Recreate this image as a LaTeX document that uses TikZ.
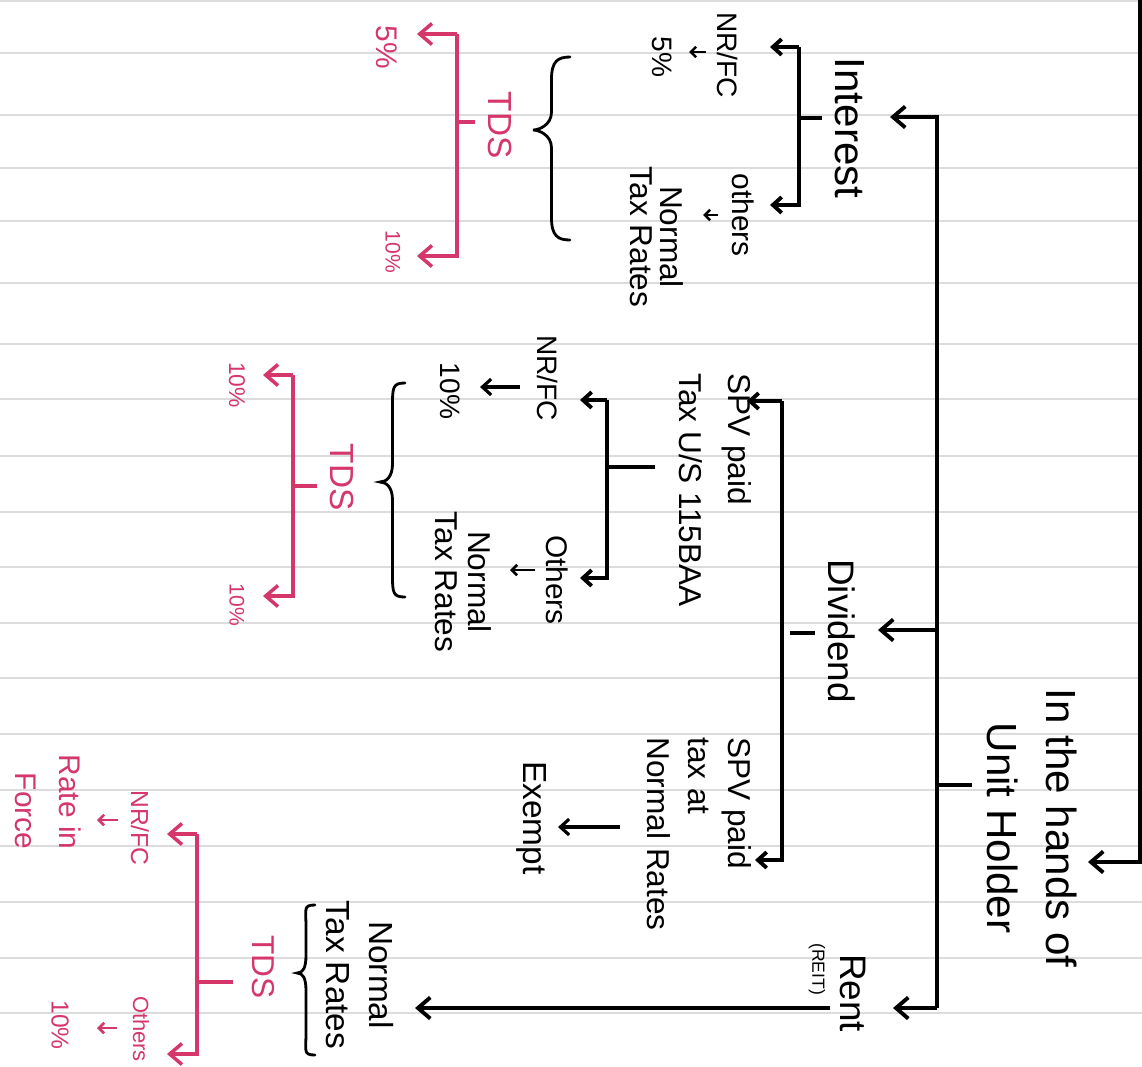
\documentclass[tikz,border=0pt]{standalone}
\usepackage{fontspec}
\setmainfont{Liberation Sans}
\usetikzlibrary{arrows.meta}
\definecolor{pinkred}{RGB}{214,55,107}
\definecolor{rulegray}{RGB}{220,220,220}
% brace opening to the left: #1 x of ends, #2 x of tip, #3 top y, #4 tip y, #5 bottom y
\newcommand\mybrc[5]{%
  \draw[line width=1.6pt,line cap=round]
    (#1,#3) .. controls ({#1-12},#3) and ({(#1+#2)/2},{#3+4}) .. ({(#1+#2)/2},{#3+22})
    -- ({(#1+#2)/2},{#4-18}) .. controls ({(#1+#2)/2},{#4-5}) and ({#2+6},#4) .. (#2,#4)
    .. controls ({#2+6},#4) and ({(#1+#2)/2},{#4+5}) .. ({(#1+#2)/2},{#4+18})
    -- ({(#1+#2)/2},{#5-22}) .. controls ({(#1+#2)/2},{#5-4}) and ({#1-12},#5) .. (#1,#5);}
\begin{document}
\begin{tikzpicture}[x=0.02cm,y=-0.02cm,
  txt/.style={rotate=-90,inner sep=0pt,align=center},
  redtxt/.style={txt,text=pinkred},
  blk/.style={line width=2.2pt,draw=black},
  redl/.style={line width=2pt,draw=pinkred},
  arr/.style={-{Straight Barb[length=7pt,width=12pt]}},
  marr/.style={-{Straight Barb[length=5pt,width=9pt]}},
  sarr/.style={line width=1.5pt,-{Straight Barb[length=3pt,width=6pt]}},
  ruled/.style={line width=1.4pt,draw=rulegray},
]
\fill[white] (0,0) rectangle (1142,1066);
\useasboundingbox (0,0) rectangle (1142,1066);
\foreach \yy in {1,53,115,168,221,283,344,399,456,512,567,623,678,734,790,846,902,958,1013}
  \draw[ruled] (0,\yy) -- (1142,\yy);

% ---------- main ----------
\node[txt,font=\fontsize{24}{34}\selectfont] (holder) at (1032,828) {In the hands of\\Unit Holder};
\coordinate (top) at (1140,-10);
\coordinate (hin) at (1088,862);
\draw[blk,arr] (top) |- (hin);
\coordinate (sTop) at (937,117);
\coordinate (sDiv) at (937,630);
\coordinate (sHold) at (937,785);
\coordinate (sBot) at (937,1008);
\coordinate (hTick) at (972,785);
\coordinate (iIn) at (890,117);
\coordinate (dIn) at (878,630);
\coordinate (rIn) at (893,1008);
\draw[blk] (hTick) -- (sHold);
\draw[blk,arr] (sBot) |- (iIn);
\draw[blk,arr] (sDiv) -- (dIn);
\draw[blk,arr] (sBot) -- (rIn);

% ---------- Interest ----------
\node[txt,font=\fontsize{24}{28}\selectfont] (interest) at (850,128) {Interest};
\coordinate (iT) at (822,118);
\coordinate (iM) at (799,118);
\coordinate (iJ) at (799,47);
\coordinate (iAt) at (770,47);
\coordinate (iBt) at (770,205);
\draw[blk] (iT) -- (iM);
\draw[blk,marr] (iJ) -- (iAt);
\draw[blk,marr] (iJ) |- (iBt);
\node[txt,font=\fontsize{16}{20}\selectfont] (nrfc1) at (728,55) {NR/FC};
\node[txt,font=\fontsize{16}{20}\selectfont] (p5) at (662,57) {5\%};
\coordinate (a1s) at (706,52); \coordinate (a1e) at (689,52);
\draw[sarr] (a1s) -- (a1e);
\node[txt,font=\fontsize{17}{20}\selectfont] (others1) at (743,215) {others};
\coordinate (a2s) at (718,215); \coordinate (a2e) at (703,215);
\draw[sarr] (a2s) -- (a2e);
\node[txt,font=\fontsize{18}{17}\selectfont] (ntr1) at (657,237) {Normal\\Tax Rates};
\mybrc{570}{533}{57}{130}{240}
\node[redtxt,font=\fontsize{19}{22}\selectfont] (tds1) at (500,125) {TDS};
\coordinate (rT1) at (475,122);
\coordinate (rM1) at (457,122);
\coordinate (rJ1) at (457,34);
\coordinate (rAt1) at (417,34);
\coordinate (rBt1) at (417,256);
\draw[redl] (rT1) -- (rM1);
\draw[redl,arr] (rJ1) -- (rAt1);
\draw[redl,arr] (rJ1) |- (rBt1);
\node[redtxt,font=\fontsize{17}{20}\selectfont] (r5) at (387,47) {5\%};
\node[redtxt,font=\fontsize{12}{14}\selectfont] (r10a) at (393,252) {10\%};

% ---------- Dividend ----------
\node[txt,font=\fontsize{21}{24}\selectfont] (dividend) at (842,631) {Dividend};
\coordinate (dT) at (815,633);
\coordinate (dTe) at (790,633);
\draw[blk] (dT) -- (dTe);
\coordinate (dJ) at (782,401);
\coordinate (dAt) at (747,401);
\coordinate (dBt) at (755,860);
\draw[blk,marr] (dJ) -- (dAt);
\draw[blk,marr] (dJ) |- (dBt);

\node[txt,align=left,anchor=north west,font=\fontsize{18}{28}\selectfont] (spv1) at (752,373) {SPV paid\\Tax U/S 115BAA};
\coordinate (d2T) at (655,467);
\coordinate (d2M) at (607,467);
\coordinate (d2J) at (607,400);
\coordinate (d2At) at (580,400);
\coordinate (d2Bt) at (580,578);
\draw[blk] (d2T) -- (d2M);
\draw[blk,marr] (d2J) -- (d2At);
\draw[blk,marr] (d2J) |- (d2Bt);
\node[txt,font=\fontsize{16}{20}\selectfont] (nrfc2) at (548,378) {NR/FC};
\coordinate (a3s) at (520,387); \coordinate (a3e) at (480,387);
\draw[blk,line width=1.8pt,marr] (a3s) -- (a3e);
\node[txt,font=\fontsize{16}{20}\selectfont] (p10b) at (450,391) {10\%};
\node[txt,font=\fontsize{17}{20}\selectfont] (others2) at (557,580) {Others};
\coordinate (a4s) at (535,570); \coordinate (a4e) at (510,570);
\draw[sarr] (a4s) -- (a4e);
\node[txt,font=\fontsize{18}{19}\selectfont] (ntr2) at (463,582) {Normal\\Tax Rates};
\mybrc{405}{380}{383}{482}{597}
\node[redtxt,font=\fontsize{19}{22}\selectfont] (tds2) at (342,477) {TDS};
\coordinate (rT2) at (317,486);
\coordinate (rM2) at (293,486);
\coordinate (rJ2) at (293,375);
\coordinate (rAt2) at (263,375);
\coordinate (rBt2) at (263,596);
\draw[redl] (rT2) -- (rM2);
\draw[redl,arr] (rJ2) -- (rAt2);
\draw[redl,arr] (rJ2) |- (rBt2);
\node[redtxt,font=\fontsize{13}{16}\selectfont] (r10b) at (237,385) {10\%};
\node[redtxt,font=\fontsize{12}{14}\selectfont] (r10c) at (237,605) {10\%};

\node[txt,align=left,anchor=north west,font=\fontsize{18}{23}\selectfont] (spv2) at (752,737) {SPV paid\\tax at\\Normal Rates};
\coordinate (a5s) at (620,827); \coordinate (a5e) at (558,827);
\draw[blk,line width=1.8pt,marr] (a5s) -- (a5e);
\node[txt,font=\fontsize{19}{22}\selectfont] (exempt) at (532,818) {Exempt};

% ---------- Rent ----------
\node[txt,font=\fontsize{21}{24}\selectfont] (rent) at (853,993) {Rent};
\node[txt,font=\fontsize{10}{12}\selectfont] (reit) at (817,969) {(REIT)};
\coordinate (rS) at (830,1008);
\coordinate (rE) at (415,1008);
\draw[blk,arr] (rS) -- (rE);
\node[txt,font=\fontsize{19}{24}\selectfont] (ntr3) at (360,975) {Normal\\Tax Rates};
\mybrc{315}{297}{905}{973}{1055}
\node[redtxt,font=\fontsize{18}{22}\selectfont] (tds3) at (263,967) {TDS};
\coordinate (rT3) at (233,982);
\coordinate (rM3) at (197,982);
\coordinate (rJ3) at (197,834);
\coordinate (rAt3) at (167,834);
\coordinate (rBt3) at (167,1054);
\draw[redl] (rT3) -- (rM3);
\draw[redl,arr] (rJ3) -- (rAt3);
\draw[redl,arr] (rJ3) |- (rBt3);
\node[redtxt,font=\fontsize{14}{17}\selectfont] (nrfc3) at (140,828) {NR/FC};
\coordinate (a6s) at (118,820); \coordinate (a6e) at (97,820);
\draw[sarr,draw=pinkred] (a6s) -- (a6e);
\node[redtxt,align=right,font=\fontsize{17}{25}\selectfont] (rif) at (48,802) {Rate in\\Force};
\node[redtxt,font=\fontsize{12.5}{15}\selectfont] (others3) at (141,1029) {Others};
\coordinate (a7s) at (117,1028); \coordinate (a7e) at (97,1028);
\draw[sarr,draw=pinkred] (a7s) -- (a7e);
\node[redtxt,font=\fontsize{14}{17}\selectfont] (r10d) at (60,1025) {10\%};
\end{tikzpicture}
\end{document}
